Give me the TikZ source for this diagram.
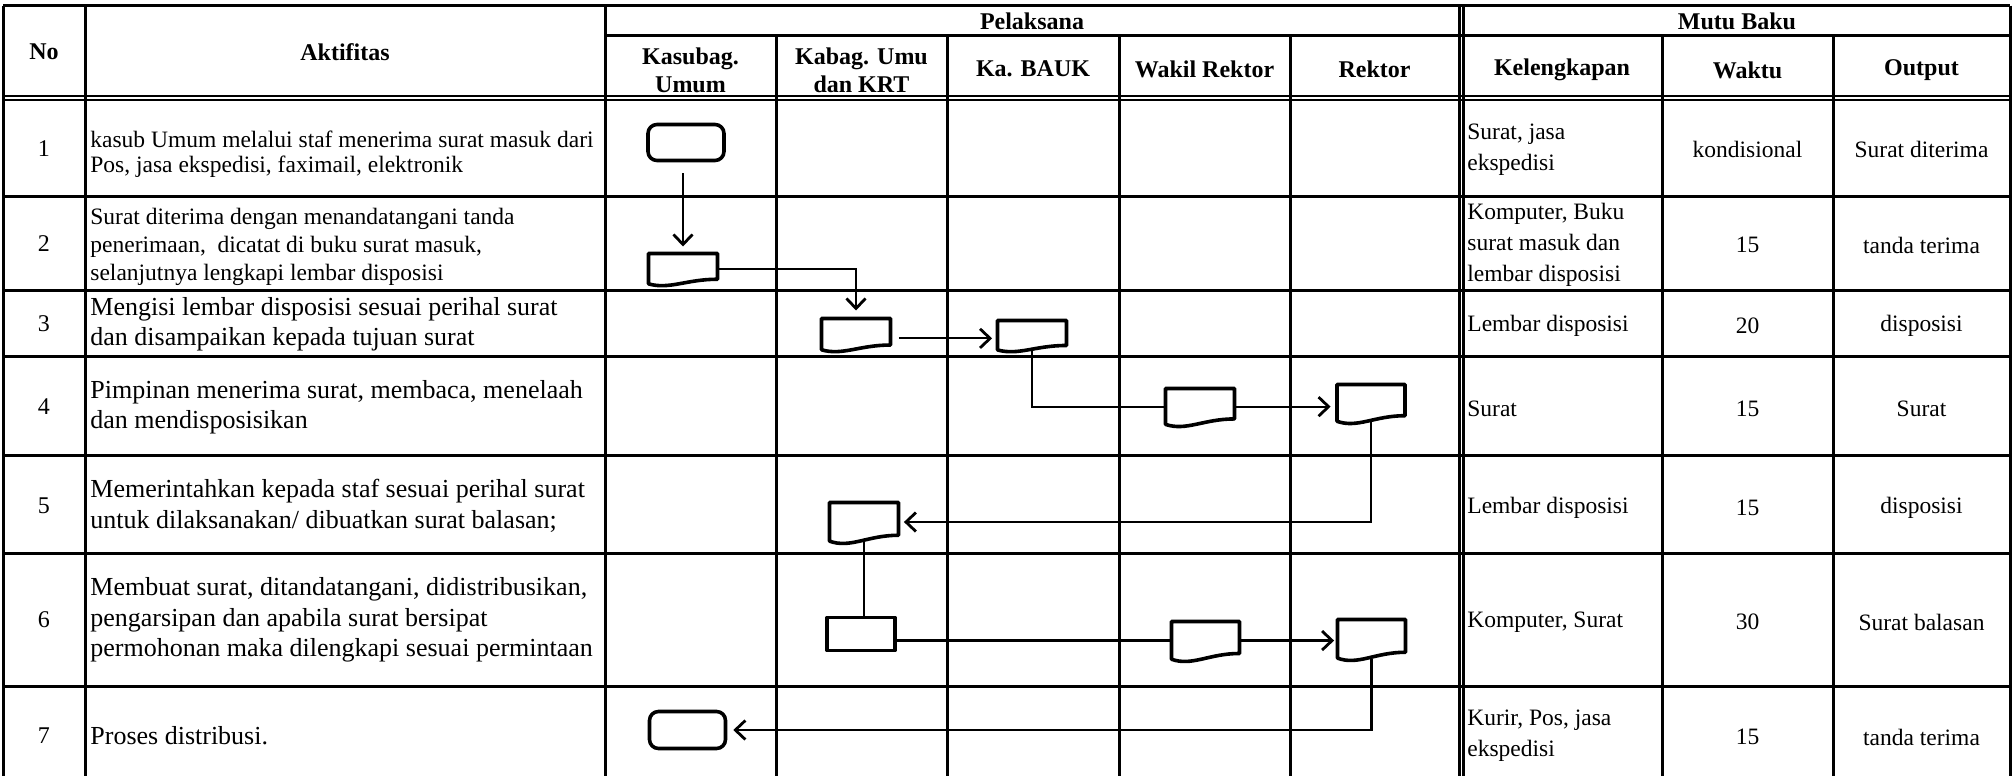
\documentclass[tikz,border=0pt]{standalone}
\usepackage{fontspec}
\setmainfont{Liberation Serif}
\usetikzlibrary{arrows.meta,calc}

\tikzset{
  rule/.style={line width=1.5pt},
  ruledbl/.style={line width=1.1pt},
  outline/.style={line width=1.8pt, line join=round, line cap=round},
  term/.style={outline, draw, rounded corners=4.5pt, inner sep=0pt},
  proc/.style={outline, draw, inner sep=0pt},
  slot/.style={inner sep=0pt, anchor=north},
  link/.style={line width=1.1pt},
  arrowlink/.style={link, -{Straight Barb[length=5pt,width=9.5pt,line width=1.4pt]}},
  hdr/.style={font=\fontsize{12}{14}\selectfont\bfseries, align=center, inner sep=0pt},
  small/.style={font=\fontsize{11.75}{15.5}\selectfont, inner sep=0pt, align=left},
  large/.style={font=\fontsize{13}{15.25}\selectfont, inner sep=0pt, align=left},
  num/.style={font=\fontsize{12}{14}\selectfont, inner sep=0pt},
  mid/.style={font=\fontsize{11.75}{15.5}\selectfont, inner sep=0pt, align=center},
}

% document symbol: name, centre x, top y, width, height
\newcommand\docsym[5]{%
  \node[slot, minimum width=#4*0.5pt, minimum height=#5*0.455pt] (#1) at (#2,#3) {};
  \draw[outline] ({#2-#4/2},{#3+0.92*#5}) -- ({#2-#4/2},#3) -- ({#2+#4/2},#3)
     -- ({#2+#4/2},{#3+0.78*#5})
     .. controls ({#2+0.05*#4},{#3+0.78*#5}) and ({#2-0.2*#4},{#3+1.1*#5}) .. ({#2-#4/2},{#3+0.92*#5}) -- cycle;
}

\begin{document}
\begin{tikzpicture}[x=0.5pt,y=-0.5pt]
\useasboundingbox (0,0) rectangle (2014,776);

% ---------- table rules ----------
\draw[rule] (3,5.5) -- (2010,5.5);
\draw[rule] (605,35.7) -- (2010,35.7);
\draw[ruledbl] (3,96.3) -- (2010,96.3);
\draw[ruledbl] (3,100.3) -- (2010,100.3);
\foreach \y in {196,290,356,455,553,686} \draw[rule] (3,\y) -- (2010,\y);
\foreach \x in {3,85,605,2010} \draw[rule] (\x,5.5) -- (\x,776);
\foreach \x in {776,947,1119,1290,1662,1833} \draw[rule] (\x,35.7) -- (\x,776);
\draw[ruledbl] (1459.5,5.5) -- (1459.5,776);
\draw[ruledbl] (1463.5,5.5) -- (1463.5,776);

% ---------- headings ----------
\node[hdr] (hNo) at (44,52) {No};
\node[hdr] (hAkt) at (345,52) {Aktifitas};
\node[hdr] (hPel) at (1032,21) {Pelaksana};
\node[hdr] (hMutu) at (1737,21) {Mutu Baku};
\node[hdr] (hKas) at (690.5,70) {Kasubag.\\Umum};
\node[hdr] (hKab) at (861.5,70) {Kabag. Umu\\dan KRT};
\node[hdr] (hBauk) at (1033,69) {Ka. BAUK};
\node[hdr] (hWakil) at (1204.5,69) {Wakil Rektor};
\node[hdr] (hRek) at (1374.5,69) {Rektor};
\node[hdr] (hKel) at (1562,70) {Kelengkapan};
\node[hdr] (hWaktu) at (1747.5,70) {Waktu};
\node[hdr] (hOut) at (1921.5,70) {Output};

% ---------- row numbers ----------
\node[num] (n1) at (44,149) {1};
\node[num] (n2) at (44,244) {2};
\node[num] (n3) at (44,324) {3};
\node[num] (n4) at (44,407) {4};
\node[num] (n5) at (44,506) {5};
\node[num] (n6) at (44,620) {6};
\node[num] (n7) at (44,736) {7};

% ---------- activities ----------
\node[small, anchor=west, font=\fontsize{11.75}{12.25}\selectfont] (a1) at (90,154) {kasub Umum melalui staf menerima surat masuk dari\\Pos, jasa ekspedisi, faximail, elektronik};
\node[small, anchor=west, font=\fontsize{11.75}{14}\selectfont] (a2) at (90,247) {Surat diterima dengan menandatangani tanda\\penerimaan,\ \ dicatat di buku surat masuk,\\selanjutnya lengkapi lembar disposisi};
\node[large, anchor=west] (a3) at (90,324) {Mengisi lembar disposisi sesuai perihal surat\\dan disampaikan kepada tujuan surat};
\node[large, anchor=west] (a4) at (90,407) {Pimpinan menerima surat, membaca, menelaah\\dan mendisposisikan};
\node[large, anchor=west] (a5) at (90,506) {Memerintahkan kepada staf sesuai perihal surat\\untuk dilaksanakan/ dibuatkan surat balasan;};
\node[large, anchor=west] (a6) at (90,620) {Membuat surat, ditandatangani, didistribusikan,\\pengarsipan dan apabila surat bersipat\\permohonan maka dilengkapi sesuai permintaan};
\node[large, anchor=west] (a7) at (90,736) {Proses distribusi.};

% ---------- Kelengkapan ----------
\node[small, anchor=west] (k1) at (1467,149.5) {Surat, jasa\\ekspedisi};
\node[small, anchor=west] (k2) at (1467,244.5) {Komputer, Buku\\surat masuk dan\\lembar disposisi};
\node[small, anchor=west] (k3) at (1467,326) {Lembar disposisi};
\node[small, anchor=west] (k4) at (1467,409) {Surat};
\node[small, anchor=west] (k5) at (1467,508) {Lembar disposisi};
\node[small, anchor=west] (k6) at (1467,622) {Komputer, Surat};
\node[small, anchor=west] (k7) at (1467,736) {Kurir, Pos, jasa\\ekspedisi};

% ---------- Waktu ----------
\node[mid] (w1) at (1747.5,149.5) {kondisional};
\node[mid] (w2) at (1747.5,245) {15};
\node[mid] (w3) at (1747.5,326) {20};
\node[mid] (w4) at (1747.5,409) {15};
\node[mid] (w5) at (1747.5,508) {15};
\node[mid] (w6) at (1747.5,622) {30};
\node[mid] (w7) at (1747.5,737) {15};

% ---------- Output ----------
\node[mid] (o1) at (1921.5,149.5) {Surat diterima};
\node[mid] (o2) at (1921.5,245) {tanda terima};
\node[mid] (o3) at (1921.5,326) {disposisi};
\node[mid] (o4) at (1921.5,409) {Surat};
\node[mid] (o5) at (1921.5,508) {disposisi};
\node[mid] (o6) at (1921.5,622) {Surat balasan};
\node[mid] (o7) at (1921.5,737) {tanda terima};

% ---------- flow symbols ----------
\node[term, minimum width=38pt, minimum height=18pt] (t1) at (686,142.5) {};
\docsym{d2}{683}{253.5}{69}{33}
\docsym{d3a}{856}{318.5}{69}{34}
\docsym{d3b}{1032}{320.5}{69}{32}
\docsym{d4a}{1200}{388.5}{69}{39}
\docsym{d4b}{1371}{384.5}{68}{40}
\docsym{d5}{864}{502.5}{69}{42}
\node[proc, minimum width=34pt, minimum height=16.5pt] (p6) at (861,634) {};
\docsym{d6a}{1205.5}{621.5}{68}{41}
\docsym{d6b}{1371.5}{619.5}{68}{42}
\node[term, minimum width=38pt, minimum height=18.5pt] (t7) at (687.5,730) {};

% ---------- connectors ----------
\draw[arrowlink, shorten <=5.5pt, shorten >=3.5pt] (d2.north |- t1.south) -- (d2.north);
\draw[arrowlink, shorten >=4pt] (d2.east) -| (d3a.north);
\draw[arrowlink, shorten <=4pt, shorten >=2.5pt] ([yshift=-2pt]d3a.east) -- ([yshift=-2pt]d3a.east -| d3b.west);
\draw[link] (d3b.south) |- (d4a.west);
\draw[arrowlink, shorten >=3pt] (d4a.east) -- (d4a.east -| d4b.west);
\draw[arrowlink, shorten >=2.5pt] (d4b.south) |- (d5.east);
\draw[link] (d5.south) -- (d5.south |- p6.north);
\draw[link] (d6a.west) -- (d6a.west -| p6.east);
\draw[arrowlink, shorten >=1.5pt] (d6a.east) -- (d6a.east -| d6b.west);
\draw[arrowlink, shorten >=3pt] (d6b.south) |- (t7.east);
\end{tikzpicture}
\end{document}
